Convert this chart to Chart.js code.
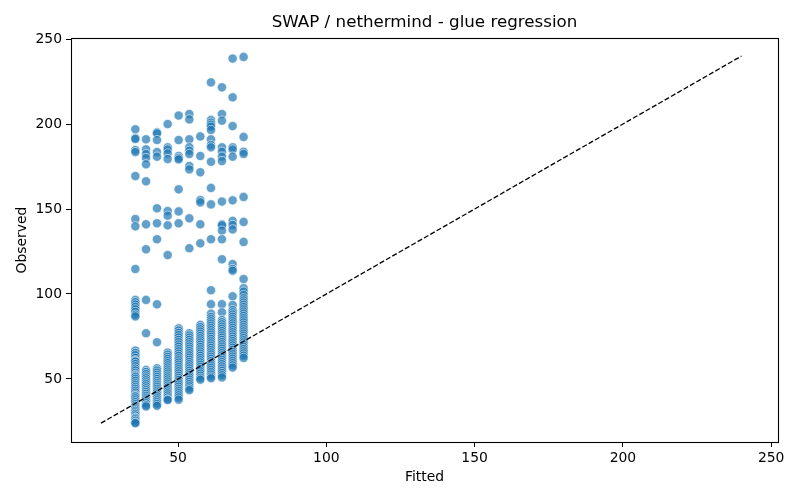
<!DOCTYPE html>
<html>
<head>
<meta charset="utf-8">
<script src="https://cdn.jsdelivr.net/npm/chart.js@4"></script>
<style>
  html, body { margin: 0; padding: 0; background: #fff; }
</style>
</head>
<body>
<canvas id="glueChart" width="800" height="500"></canvas>
<script>
// fitted levels (x) and the observed values at each level (y)
const fittedLevels = [35.6, 39.2, 42.9, 46.5, 50.2, 53.8, 57.5, 61.1, 64.8, 68.4, 72.1];

const obs0 = [196.9, 191.8, 191.2, 184.7, 183.5, 169.4, 144.1, 139.8, 114.7, 96.5, 95.2, 93.8, 92.4, 91, 89.5, 87.8, 86.8,
  66.7, 65.3, 64, 62.4, 61, 60.5, 60.2, 58.8, 57.5, 56.1, 55, 53.6, 52.4, 52, 51.2, 50.1, 48.9, 47.6, 46.5, 45.3, 44.2,
  43.1, 42, 40.8, 40, 39.7, 38.6, 37.4, 36.3, 35.2, 34.1, 33, 32.1, 31.2, 30.3, 29.4, 28.5, 27.4, 27, 26.3, 25.4, 24.4, 24];
const obs1 = [191, 185.1, 182.4, 180, 176.3, 166.3, 141, 126.3, 96.5, 76.9, 55.3, 54.1, 52.8, 51.5, 50.4, 49.2, 48, 46.9,
  45.7, 44.5, 43.4, 42.3, 41.2, 40.1, 39, 37.9, 36.8, 35.7, 34.6, 33.8];
const obs2 = [195.1, 194.5, 190.6, 183.5, 180.8, 150.4, 141.6, 132.2, 93.9, 71.6, 56.3, 55, 53.7, 52.4, 51.2, 50, 48.8,
  47.6, 46.5, 45.4, 44.2, 43.1, 42, 40.9, 39.8, 38.6, 37.5, 36.4, 35.3, 34.2];
const obs3 = [200, 186.3, 185, 182.7, 179.4, 148.8, 146.1, 140.4, 122.9, 65.5, 64.3, 63, 61.8, 60.5, 59.3, 58, 56.8, 55.6,
  54.4, 53.2, 52, 50.9, 49.7, 48.5, 47.3, 46.1, 45, 43.8, 42.6, 41.5, 40.3, 39.1, 38, 37.6];
const obs4 = [205, 190.6, 181.2, 180, 179.2, 161.6, 148.6, 141.6, 79.8, 78.5, 77.1, 75.8, 74.4, 73, 71.7, 70.3, 69, 67.6,
  66.3, 64.9, 63.6, 62.2, 61, 59.7, 58.4, 57.1, 55.8, 54.5, 53.2, 51.9, 50.6, 49.4, 48.1, 46.8, 45.5, 44.2, 43, 41.7,
  40.4, 39.1, 37.8];
const obs5 = [205.9, 202.7, 191, 186.3, 184.3, 182.4, 175.3, 173.3, 144.5, 126.9, 76.9, 75.6, 74.3, 73, 71.7, 70.4, 69.1,
  67.8, 66.5, 65.2, 63.9, 62.6, 61.3, 60, 58.7, 57.4, 56.1, 54.8, 53.5, 52.2, 50.9, 49.6, 48.3, 47, 45.7, 44.4, 43.4];
const obs6 = [192.7, 181.2, 171.6, 155.3, 153.9, 141, 129.8, 81.8, 80.5, 79.2, 77.9, 76.6, 75.3, 74, 72.7, 71.4, 70.1,
  68.8, 67.5, 66.2, 64.9, 63.6, 62.3, 61, 59.7, 58.4, 57.1, 55.8, 54.5, 53.2, 51.9, 50.6, 49.6];
const obs7 = [224.5, 202.4, 200.8, 199.6, 198.4, 196.5, 191, 187.6, 186.3, 177.8, 162.4, 152.7, 132.2, 102.2, 94, 88.4,
  86.5, 85.2, 83.9, 82.6, 81.3, 80, 78.7, 77.4, 76.1, 74.8, 73.5, 72.2, 70.9, 69.6, 68.3, 67, 65.7, 64.4, 63.1, 61.8,
  60.5, 59.2, 57.9, 56.6, 55.3, 54, 52.7, 51.4, 50.4];
const obs8 = [221.6, 205.9, 202, 186.3, 183.7, 180.8, 178.2, 154.4, 141, 140.4, 137.3, 132.2, 120.4, 94, 89.2, 84.7, 83.4,
  82.1, 80.8, 79.5, 78.2, 76.9, 75.6, 74.3, 73, 71.7, 70.4, 69.1, 67.8, 66.5, 65.2, 63.9, 62.6, 61.3, 60, 58.7, 57.4,
  56.1, 54.8, 53.5, 52.2, 50.9];
const obs9 = [238.5, 215.7, 198.8, 186.3, 185, 180.8, 155.1, 143, 140.6, 138, 117.6, 114.7, 113.7, 98.6, 93.5, 90.5, 89.2,
  87.9, 86.6, 85.3, 84, 82.7, 81.4, 80.1, 78.8, 77.5, 76.2, 74.9, 73.6, 72.3, 71, 69.7, 68.4, 67.1, 65.8, 64.5, 63.2,
  61.9, 60.6, 59.3, 58, 56.7];
const obs10 = [239.5, 192.4, 183.7, 182.4, 157.1, 142.4, 130.6, 108.8, 103.4, 101.4, 99.4, 97.5, 96.2, 94.9, 93.6, 92.3,
  91, 89.7, 88.4, 87.1, 85.8, 84.5, 83.2, 81.9, 80.6, 79.3, 78, 76.7, 75.4, 74.1, 72.8, 71.5, 70.2, 68.9, 67.6, 66.3,
  65, 63.7, 62.4];

const observedByLevel = [obs0, obs1, obs2, obs3, obs4, obs5, obs6, obs7, obs8, obs9, obs10];

// y = x reference line ends
const diagEnds = [24, 240];

const xTicks = [50, 100, 150, 200, 250];
const yTicks = [50, 100, 150, 200, 250];

const points = [];
fittedLevels.forEach((fx, i) => {
  observedByLevel[i].forEach((oy) => points.push({ x: fx, y: oy }));
});

Chart.defaults.font.family = "'DejaVu Sans', sans-serif";
Chart.defaults.color = "#000";

// black box round the plot, like matplotlib spines
const frame = {
  id: "frame",
  afterDatasetsDraw(chart) {
    const { ctx, chartArea: a } = chart;
    ctx.save();
    ctx.strokeStyle = "#000";
    ctx.lineWidth = 1.1;
    ctx.strokeRect(Math.round(a.left) + 0.5, Math.round(a.top) + 0.5,
      Math.round(a.right - a.left), Math.round(a.bottom - a.top));
    ctx.restore();
  }
};

const ctx = document.getElementById("glueChart").getContext("2d");

new Chart(ctx, {
  data: {
    datasets: [
      {
        type: "line",
        data: diagEnds.map((v) => ({ x: v, y: v })),
        borderColor: "#000",
        borderWidth: 1.3,
        borderDash: [5.1, 2.2],
        pointRadius: 0,
        fill: false,
        order: 0
      },
      {
        type: "scatter",
        data: points,
        backgroundColor: "rgba(31,119,180,0.7)",
        borderColor: "rgba(255,255,255,0.7)",
        borderWidth: 0.8,
        pointRadius: 4.6,
        order: 1
      }
    ]
  },
  options: {
    responsive: false,
    animation: false,
    devicePixelRatio: 1,
    layout: { padding: { left: 0, right: 22, top: 0, bottom: 0 } },
    plugins: {
      legend: { display: false },
      tooltip: { enabled: false },
      title: {
        display: true,
        text: "SWAP / nethermind - glue regression",
        fullSize: false,
        font: { size: 16.7, weight: "normal" },
        color: "#000",
        padding: { top: 13, bottom: 5 }
      }
    },
    scales: {
      x: {
        type: "linear",
        min: 13.9,
        max: 252.3,
        afterBuildTicks: (axis) => { axis.ticks = xTicks.map((v) => ({ value: v })); },
        afterFit: (axis) => { axis.height = 58; },
        grid: { drawOnChartArea: false, drawTicks: true, tickLength: 5, color: "#000" },
        border: { display: true, color: "#000" },
        ticks: { color: "#000", font: { size: 13.9 }, padding: 3, maxRotation: 0 },
        title: { display: true, text: "Fitted", font: { size: 13.9 }, color: "#000", padding: { top: 3, bottom: 14.5 } }
      },
      y: {
        type: "linear",
        min: 12.9,
        max: 250.6,
        afterBuildTicks: (axis) => { axis.ticks = yTicks.map((v) => ({ value: v })); },
        afterFit: (axis) => { axis.width = 71; },
        grid: { drawOnChartArea: false, drawTicks: true, tickLength: 5, color: "#000" },
        border: { display: true, color: "#000" },
        ticks: { color: "#000", font: { size: 13.9 }, padding: 4 },
        title: { display: true, text: "Observed", font: { size: 13.9 }, color: "#000", padding: { top: 14, bottom: 0 } }
      }
    }
  },
  plugins: [frame]
});
</script>
</body>
</html>
